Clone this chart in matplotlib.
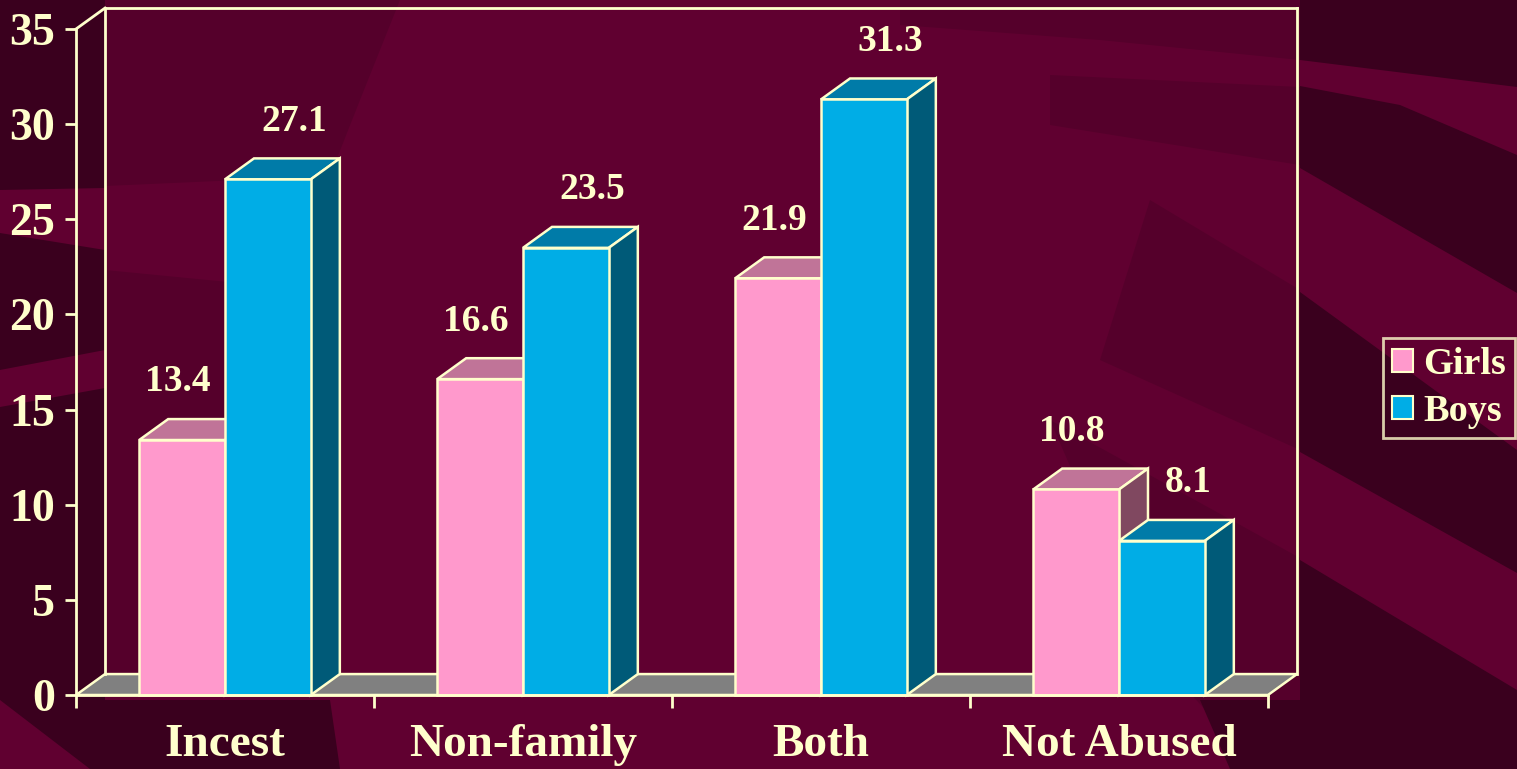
import matplotlib
matplotlib.use("Agg")
import matplotlib.pyplot as plt
import numpy as np
from matplotlib.patches import Polygon, Patch

categories = ["Incest", "Non-family", "Both", "Not Abused"]
girls = [13.4, 16.6, 21.9, 10.8]
boys = [27.1, 23.5, 31.3, 8.1]
y_ticks = [0, 5, 10, 15, 20, 25, 30, 35]

CREAM = "#FFFFCC"
PINK, PINK_TOP, PINK_SIDE = "#FF99CC", "#C07498", "#804860"
BLUE, BLUE_TOP, BLUE_SIDE = "#00ADE6", "#007BA8", "#005A78"
FLOOR = "#808080"
BRIGHT, DARK, MID = "#600030", "#3A001E", "#55002B"

plt.rcParams["font.family"] = ["Liberation Serif", "DejaVu Serif"]
plt.rcParams["font.weight"] = "bold"

W, H = 1517, 769
fig = plt.figure(figsize=(W / 100, H / 100), dpi=100)
fig.patch.set_facecolor(BRIGHT)

# background swirls (pixel coords, y down)
bg = fig.add_axes([0, 0, 1, 1], zorder=-5)
bg.set_xlim(0, W)
bg.set_ylim(H, 0)
bg.axis("off")
shapes = [
    # subtle shading inside the plot
    (MID, [(105, 0), (400, 0), (360, 100), (330, 176), (105, 186)]),
    (MID, [(900, 0), (1300, 0), (1300, 60), (1100, 40), (900, 25)]),
    (MID, [(1050, 75), (1300, 87), (1300, 165), (1050, 125)]),
    (MID, [(1150, 200), (1300, 290), (1300, 450), (1100, 360)]),
    (MID, [(1050, 420), (1300, 558), (1300, H), (1260, H), (1150, 650)]),
    (MID, [(105, 270), (310, 290), (320, 500), (330, 674), (105, 674)]),
    # outside regions
    (DARK, [(0, 0), (105, 0), (105, 188), (0, 190)]),
    (DARK, [(0, 233), (105, 250), (105, 700), (330, 700), (340, H), (90, H), (0, 700)]),
    (BRIGHT, [(0, 370), (105, 350), (105, 388), (0, 407)]),
    (DARK, [(1300, 0), (W, 0), (W, 87), (1300, 60)]),
    (DARK, [(1300, 86), (1400, 105), (W, 155), (W, 293), (1300, 168)]),
    (DARK, [(1300, 292), (W, 450), (W, 573), (1300, 452)]),
    (DARK, [(1300, 560), (W, 690), (W, H), (1300, H)]),
    (DARK, [(1200, 700), (1300, 700), (1300, H), (1230, H)]),
]
for col, pts in shapes:
    bg.add_patch(Polygon(pts, closed=True, facecolor=col, edgecolor="none"))

ax = fig.add_axes([76 / W, (H - 695) / H, (1268 - 76) / W, (695 - 29) / H])
ax.set_facecolor("none")
ax.set_xlim(-0.5, len(categories) - 0.5)
ax.set_ylim(0, 35)

DX = 0.0973   # depth offset in x (category units)
DY = 1.10     # depth offset in y (value units)
bw = 0.288
lw = 1.8
x = np.arange(len(categories))
x0, x1 = -0.5, len(categories) - 0.5
ytop = y_ticks[-1]

# floor
ax.add_patch(Polygon([(x0, 0), (x1, 0), (x1 + DX, DY), (x0 + DX, DY)], closed=True,
                     facecolor=FLOOR, edgecolor=CREAM, lw=lw, zorder=1, clip_on=False))
# back wall frame
wall = dict(color=CREAM, lw=2, zorder=1, clip_on=False, solid_capstyle="projecting")
ax.plot([x0, x0 + DX], [ytop, ytop + DY], **wall)
ax.plot([x0 + DX, x0 + DX], [DY, ytop + DY], **wall)
ax.plot([x0 + DX, x1 + DX], [ytop + DY, ytop + DY], **wall)
ax.plot([x1 + DX, x1 + DX], [DY, ytop + DY], **wall)


def draw_bar(xl, v, front, top, side, z):
    ax.add_patch(Polygon([(xl, v), (xl + bw, v), (xl + bw + DX, v + DY), (xl + DX, v + DY)],
                         closed=True, facecolor=top, edgecolor=CREAM, lw=lw, zorder=z, clip_on=False))
    ax.add_patch(Polygon([(xl + bw, 0), (xl + bw + DX, DY), (xl + bw + DX, v + DY), (xl + bw, v)],
                         closed=True, facecolor=side, edgecolor=CREAM, lw=lw, zorder=z, clip_on=False))
    ax.bar(xl, v, bw, align="edge", color=front, edgecolor=CREAM, lw=lw, zorder=z + 0.5, clip_on=False)


for i in range(len(categories)):
    draw_bar(x[i] - bw, girls[i], PINK, PINK_TOP, PINK_SIDE, 3 + 2 * i)
    draw_bar(x[i], boys[i], BLUE, BLUE_TOP, BLUE_SIDE, 4 + 2 * i)
    ax.text(x[i] - bw / 2 - 0.013, girls[i] + 3.05, f"{girls[i]}", ha="center", va="center",
            fontsize=27, color=CREAM, fontweight="bold")
    ax.text(x[i] + bw / 2 + 0.087, boys[i] + 3.05, f"{boys[i]}", ha="center", va="center",
            fontsize=27, color=CREAM, fontweight="bold")

for s in ["top", "right"]:
    ax.spines[s].set_visible(False)
for s in ["left", "bottom"]:
    ax.spines[s].set_color(CREAM)
    ax.spines[s].set_linewidth(2)
    ax.spines[s].set_zorder(20)

ax.set_yticks(y_ticks)
ax.set_yticklabels([str(t) for t in y_ticks])
ax.tick_params(axis="y", colors=CREAM, length=8, width=2, pad=7, labelsize=33)
ax.set_xticks(np.arange(len(categories) + 1) - 0.5)
ax.set_xticklabels([])
ax.tick_params(axis="x", which="major", colors=CREAM, length=9, width=2)
ax.set_xticks(x, minor=True)
ax.set_xticklabels(categories, minor=True)
ax.tick_params(axis="x", which="minor", length=0, pad=21, labelsize=34, labelcolor=CREAM)
for lab in ax.get_xticklabels(minor=True) + ax.get_yticklabels():
    lab.set_fontweight("bold")

handles = [Patch(facecolor=PINK, edgecolor=CREAM, lw=1.5),
           Patch(facecolor=BLUE, edgecolor=CREAM, lw=1.5)]
leg = fig.legend(handles, ["Girls", "Boys"], loc="center", bbox_to_anchor=(1449 / W, (H - 388) / H),
                 prop={"size": 27.5, "weight": "bold"}, labelcolor=CREAM, frameon=True, fancybox=False,
                 handlelength=0.55, handleheight=0.55, handletextpad=0.25, borderpad=0.25,
                 labelspacing=0.3, borderaxespad=0)
leg.get_frame().set_facecolor("none")
leg.get_frame().set_edgecolor(CREAM)
leg.get_frame().set_linewidth(2)

fig.savefig("out.png", dpi=100, facecolor=fig.get_facecolor())
